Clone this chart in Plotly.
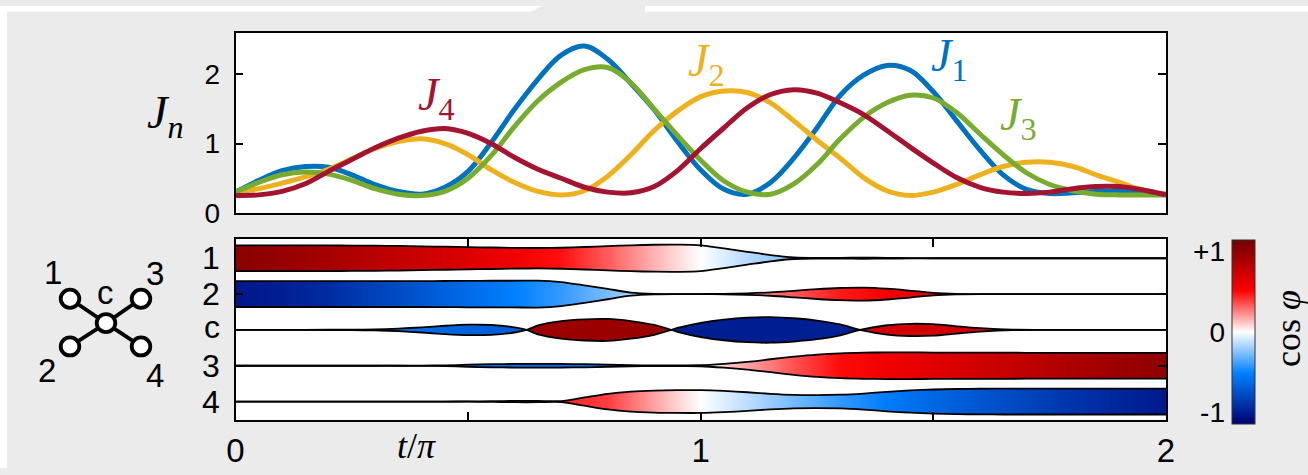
import plotly.graph_objects as go
from plotly.colors import sample_colorscale

W, H = 1308, 475

# ---------------- data ----------------
t_grid = [0.0, 0.05, 0.1, 0.15, 0.2, 0.25, 0.3, 0.35, 0.4, 0.45,
          0.5, 0.55, 0.6, 0.65, 0.7, 0.75, 0.8, 0.85, 0.9, 0.95,
          1.0, 1.05, 1.1, 1.15, 1.2, 1.25, 1.3, 1.35, 1.4, 1.45,
          1.5, 1.55, 1.6, 1.65, 1.7, 1.75, 1.8, 1.85, 1.9, 1.95, 2.0]

# couplings J_n(t)
J1 = [0.30, 0.47, 0.61, 0.67, 0.66, 0.55, 0.41, 0.31, 0.27, 0.37,
      0.60, 1.02, 1.50, 1.93, 2.28, 2.41, 2.22, 1.87, 1.49, 1.03,
      0.62, 0.34, 0.27, 0.44, 0.79, 1.23, 1.70, 1.99, 2.13, 2.06,
      1.75, 1.33, 0.91, 0.55, 0.34, 0.28, 0.29, 0.31, 0.32, 0.30, 0.27]
J2 = [0.30, 0.35, 0.43, 0.52, 0.63, 0.78, 0.93, 1.03, 1.07, 1.00,
      0.84, 0.62, 0.44, 0.31, 0.26, 0.32, 0.53, 0.84, 1.19, 1.47,
      1.68, 1.76, 1.74, 1.59, 1.33, 1.05, 0.79, 0.51, 0.32, 0.25,
      0.30, 0.41, 0.55, 0.67, 0.73, 0.73, 0.67, 0.55, 0.44, 0.33, 0.27]
J3 = [0.30, 0.44, 0.55, 0.59, 0.56, 0.47, 0.35, 0.27, 0.25, 0.31,
      0.50, 0.83, 1.25, 1.62, 1.89, 2.07, 2.10, 1.88, 1.50, 1.12,
      0.76, 0.46, 0.30, 0.27, 0.42, 0.70, 1.07, 1.38, 1.59, 1.70,
      1.66, 1.45, 1.14, 0.84, 0.58, 0.41, 0.32, 0.27, 0.26, 0.26, 0.26]
J4 = [0.25, 0.26, 0.31, 0.42, 0.60, 0.77, 0.94, 1.08, 1.18, 1.22,
      1.15, 1.00, 0.80, 0.63, 0.50, 0.37, 0.30, 0.29, 0.38, 0.61,
      0.93, 1.23, 1.52, 1.71, 1.78, 1.73, 1.59, 1.42, 1.19, 0.95,
      0.72, 0.51, 0.37, 0.30, 0.28, 0.30, 0.35, 0.38, 0.38, 0.33, 0.26]

# site amplitudes (relative band half-width)
sites = ["1", "2", "c", "3", "4"]
amp_1 = [1.0, 1.0, 1.0, 1.0, 0.99, 0.98, 0.97, 0.95, 0.92, 0.89,
         0.86, 0.83, 0.80, 0.79, 0.81, 0.87, 0.94, 1.0, 1.04, 1.05,
         1.0, 0.76, 0.50, 0.24, 0.06, 0.02, 0.03, 0.04, 0.03, 0.01,
         0, 0, 0, 0, 0, 0, 0, 0, 0, 0, 0]
amp_2 = [1.0, 1.0, 1.0, 1.0, 1.0, 1.0, 1.0, 1.0, 1.0, 1.01,
         1.02, 1.03, 1.03, 1.04, 0.93, 0.68, 0.40, 0.12, 0.02, 0.0,
         0.0, 0.02, 0.06, 0.13, 0.25, 0.38, 0.47, 0.50, 0.42, 0.27,
         0.10, 0.02, 0, 0, 0, 0, 0, 0, 0, 0, 0]
amp_3 = [0, 0, 0, 0, 0, 0, 0, 0, 0.01, 0.03,
         0.08, 0.12, 0.14, 0.15, 0.14, 0.12, 0.08, 0.04, 0.03, 0.03,
         0.04, 0.15, 0.30, 0.50, 0.70, 0.86, 0.96, 1.01, 1.03, 1.03,
         1.02, 1.02, 1.01, 1.01, 1.0, 1.0, 1.0, 1.0, 1.0, 1.0, 1.0]
amp_4 = [0, 0, 0, 0, 0, 0, 0, 0, 0, 0,
         0.01, 0.03, 0.05, 0.05, 0.04, 0.32, 0.60, 0.77, 0.85, 0.88,
         0.88, 0.82, 0.72, 0.60, 0.52, 0.50, 0.53, 0.62, 0.75, 0.86,
         0.93, 0.97, 0.99, 1.0, 1.0, 1.0, 1.0, 1.0, 1.0, 1.0, 1.0]
# central site: real amplitude changes sign at each node
t_c = [0.0, 0.1, 0.2, 0.25, 0.3, 0.35, 0.4, 0.45, 0.5, 0.55, 0.6, 0.626,
       0.65, 0.7, 0.75, 0.8, 0.85, 0.9, 0.937, 0.95, 1.0, 1.05, 1.1, 1.15,
       1.2, 1.25, 1.3, 1.342, 1.4, 1.45, 1.5, 1.55, 1.6, 1.67, 1.75, 1.85, 2.0]
amp_c = [0.0, 0.0, 0.01, 0.02, 0.04, 0.10, 0.20, 0.32, 0.40, 0.38, 0.20, 0.0,
         -0.35, -0.68, -0.82, -0.85, -0.68, -0.38, 0.0, 0.15, 0.55, 0.80, 0.95, 0.99,
         0.90, 0.72, 0.42, 0.0, -0.36, -0.47, -0.44, -0.28, -0.14, -0.02, 0.0, 0.0, 0.0]

# phase (cos phi) along time
t_phase = [0.0, 0.1, 0.2, 0.3, 0.4, 0.5, 0.6, 0.7, 0.8, 0.9, 1.0,
           1.1, 1.2, 1.3, 1.4, 1.5, 1.6, 1.7, 1.8, 1.9, 2.0]
cos_1 = [1.0, 0.95, 0.88, 0.80, 0.72, 0.64, 0.56, 0.47, 0.32, 0.15, 0.0,
         -0.14, -0.26, -0.30, -0.32, -0.34, -0.36, -0.38, -0.40, -0.42, -0.44]
cos_2 = [-1.0, -0.96, -0.90, -0.80, -0.70, -0.60, -0.50, -0.40, -0.26, -0.10, 0.05,
         0.20, 0.33, 0.45, 0.55, 0.65, 0.72, 0.78, 0.83, 0.87, 0.90]
cos_3 = [-0.6, -0.6, -0.6, -0.6, -0.6, -0.6, -0.6, -0.6, -0.55, -0.35, 0.0,
         0.18, 0.34, 0.48, 0.56, 0.63, 0.70, 0.77, 0.85, 0.92, 0.98]
cos_4 = [0.45, 0.45, 0.45, 0.45, 0.45, 0.45, 0.45, 0.43, 0.38, 0.18, 0.0,
         -0.13, -0.27, -0.40, -0.52, -0.62, -0.70, -0.78, -0.86, -0.93, -0.99]
t_phase_c = [0.0, 0.35, 0.5, 0.6, 0.62, 0.632, 0.8, 0.93, 0.944, 1.15,
             1.335, 1.349, 1.5, 1.67, 2.0]
cos_c = [-0.50, -0.55, -0.65, -0.66, -0.66, 0.92, 0.93, 0.92, -0.97, -0.97,
         -0.95, 0.68, 0.70, 0.65, 0.60]

# ---------------- styling ----------------
CMIN, CMAX = -1.11, 1.11
anchors = [(-1.11, "rgb(0,0,112)"), (-0.5, "rgb(0,128,255)"), (0.0, "rgb(255,255,255)"),
           (0.5, "rgb(255,0,0)"), (1.11, "rgb(112,0,0)")]
CS = [[(v - CMIN) / (CMAX - CMIN), c] for v, c in anchors]

HALF = 0.3614   # band half-width (axis units) for amplitude 1
SANS = "Liberation Sans"
SERIF = "Liberation Serif"


def px(X):
    return X / W


def py(Y):
    return 1 - Y / H


fig = go.Figure()

# ---- top panel: couplings ----
curve_specs = [(J1, "#0072BD"), (J2, "#EDB120"), (J3, "#77AC30"), (J4, "#A2142F")]
for vals, col in curve_specs:
    fig.add_trace(go.Scatter(x=t_grid, y=vals, mode="lines", xaxis="x", yaxis="y",
                             line=dict(color=col, width=5, shape="spline", smoothing=1.0),
                             showlegend=False, hoverinfo="skip"))

# ---- bottom panel: site amplitudes coloured by cos(phi) ----
band_specs = [
    (1, t_grid, amp_1, t_phase, cos_1),
    (2, t_grid, amp_2, t_phase, cos_2),
    (3, t_c, amp_c, t_phase_c, cos_c),
    (4, t_grid, amp_3, t_phase, cos_3),
    (5, t_grid, amp_4, t_phase, cos_4),
]
for row, tt, aa, tp, cc in band_specs:
    lower = [row + a * HALF for a in aa]
    upper = [row - a * HALF for a in aa]
    cols = sample_colorscale(CS, [(c - CMIN) / (CMAX - CMIN) for c in cc])
    grad = [[t / 2.0, col] for t, col in zip(tp, cols)]
    edge = dict(color="black", width=1.8, shape="spline", smoothing=0.8)
    fig.add_trace(go.Scatter(x=tt, y=lower, mode="lines", xaxis="x2", yaxis="y2",
                             line=edge, showlegend=False, hoverinfo="skip"))
    fig.add_trace(go.Scatter(x=tt, y=upper, mode="lines", xaxis="x2", yaxis="y2",
                             line=edge, fill="tonexty",
                             fillgradient=dict(type="horizontal", colorscale=grad,
                                               start=0, stop=2),
                             showlegend=False, hoverinfo="skip"))

# ---- colour bar ----
fig.add_trace(go.Scatter(
    x=[None], y=[None], mode="markers", xaxis="x3", yaxis="y3",
    marker=dict(color=[0], colorscale=CS, cmin=CMIN, cmax=CMAX, showscale=True,
                colorbar=dict(x=px(1232), xanchor="left", y=py(335), yanchor="middle",
                              lenmode="pixels", len=184, thicknessmode="pixels",
                              thickness=23, xpad=0, ypad=0, outlinewidth=1,
                              outlinecolor="#333333", ticks="", showticklabels=False,
                              bgcolor="rgba(0,0,0,0)", borderwidth=0)),
    showlegend=False, hoverinfo="skip"))

frame = dict(showline=True, linecolor="black", linewidth=1.6, showgrid=False,
             zeroline=False, automargin=False)

fig.update_layout(
    width=W, height=H, margin=dict(l=0, r=0, t=0, b=0),
    paper_bgcolor="#ebebeb", plot_bgcolor="white",
    xaxis=dict(domain=[px(235.5), px(1166)], range=[0, 2], anchor="y",
               showticklabels=False, ticks="", mirror=True, **frame),
    yaxis=dict(domain=[py(212.7), py(27.7)], range=[0, 2.6], anchor="x",
               tickvals=[0, 1, 2], ticks="inside", ticklen=8, tickwidth=1.6,
               tickcolor="black", mirror="ticks", ticklabelstandoff=8,
               tickfont=dict(family=SANS, size=28, color="black"), **frame),
    xaxis2=dict(domain=[px(235.5), px(1166)], range=[0, 2], anchor="y2",
                tickvals=[0, 1, 2], ticks="inside", ticklen=8, tickwidth=1.6,
                tickcolor="black", mirror="ticks", ticklabelstandoff=1,
                minor=dict(tickvals=[0.5, 1.5], ticks="inside", ticklen=8,
                           tickwidth=1.6, tickcolor="black"),
                tickfont=dict(family=SANS, size=33, color="black"), **frame),
    yaxis2=dict(domain=[py(425.3), py(239.3)], range=[5.505, 0.456], anchor="x2",
                tickvals=[2, 4], showticklabels=False, ticks="inside", ticklen=8,
                tickwidth=1.6, tickcolor="black", mirror="ticks", **frame),
    xaxis3=dict(domain=[px(1232), px(1255)], range=[0, 1], anchor="y3", visible=False),
    yaxis3=dict(domain=[py(427), py(243)], range=[CMIN, CMAX], anchor="x3",
                tickvals=[-1, 0, 1], ticktext=["-1", "0", "+1"], ticks="",
                showline=False, showgrid=False, zeroline=False, ticklabelstandoff=6,
                tickfont=dict(family=SANS, size=28, color="black")),
)

# ---- page background pieces ----
shapes = [
    dict(type="path", xref="paper", yref="paper", layer="below",
         path=f"M{px(0)},{py(0)} L{px(542)},{py(0)} L{px(531)},{py(6)} L{px(7)},{py(6)} "
              f"L{px(7)},{py(475)} L{px(0)},{py(475)} Z",
         fillcolor="white", line=dict(width=0)),
    dict(type="rect", xref="paper", yref="paper", layer="below",
         x0=px(645), x1=px(1308), y0=py(6), y1=py(0),
         fillcolor="white", line=dict(width=0)),
]

# ---- star graph sketch ----
node_c = (106, 326)
nodes = {"1": (70, 301), "3": (141, 301), "2": (70, 350), "4": (141, 350)}
for (nx, ny) in nodes.values():
    shapes.append(dict(type="line", xref="paper", yref="paper",
                       x0=px(node_c[0]), y0=py(node_c[1]), x1=px(nx), y1=py(ny),
                       line=dict(color="black", width=3.8)))
for (nx, ny) in list(nodes.values()) + [node_c]:
    r = 9.3
    shapes.append(dict(type="circle", xref="paper", yref="paper",
                       x0=px(nx - r), x1=px(nx + r), y0=py(ny + r), y1=py(ny - r),
                       fillcolor="white", line=dict(color="black", width=3.8)))
fig.update_layout(shapes=shapes)

annotations = []


def note(text, X, Y, size, family=SANS, color="black", xanchor="center", angle=0):
    annotations.append(dict(text=text, x=px(X), y=py(Y), xref="paper", yref="paper",
                            showarrow=False, xanchor=xanchor, yanchor="middle",
                            textangle=angle,
                            font=dict(family=family, size=size, color=color)))


# graph node labels
note("1", 53, 274, 33)
note("3", 155, 275, 33)
note("c", 105, 295, 33)
note("2", 47, 375, 33)
note("4", 155, 380, 33)

# row labels of the lower panel
for k, s in enumerate(sites):
    annotations.append(dict(text=s, x=px(222), y=k + 1, xref="paper", yref="y2",
                            showarrow=False, xanchor="right", yanchor="middle",
                            yshift=3 if s == "c" else 0,
                            font=dict(family=SANS, size=32, color="black")))

# curve labels
note("<i>J</i><sub>4</sub>", 436, 95, 46, SERIF, "#A2142F")
note("<i>J</i><sub>2</sub>", 706, 60, 46, SERIF, "#EDB120")
note("<i>J</i><sub>1</sub>", 949, 55, 46, SERIF, "#0072BD")
note("<i>J</i><sub>3</sub>", 1018, 115, 46, SERIF, "#77AC30")
note("<i>J<sub>n</sub></i>", 165, 113, 46, SERIF, "black")

# axis and colour-bar titles
note("<i>t</i>/<i>π</i>", 417, 452, 36, SERIF)
note("cos <i>φ</i>", 1288, 332, 36, SERIF, angle=-90)

fig.update_layout(annotations=annotations)

fig.write_html("out.html", config={"displayModeBar": False})
